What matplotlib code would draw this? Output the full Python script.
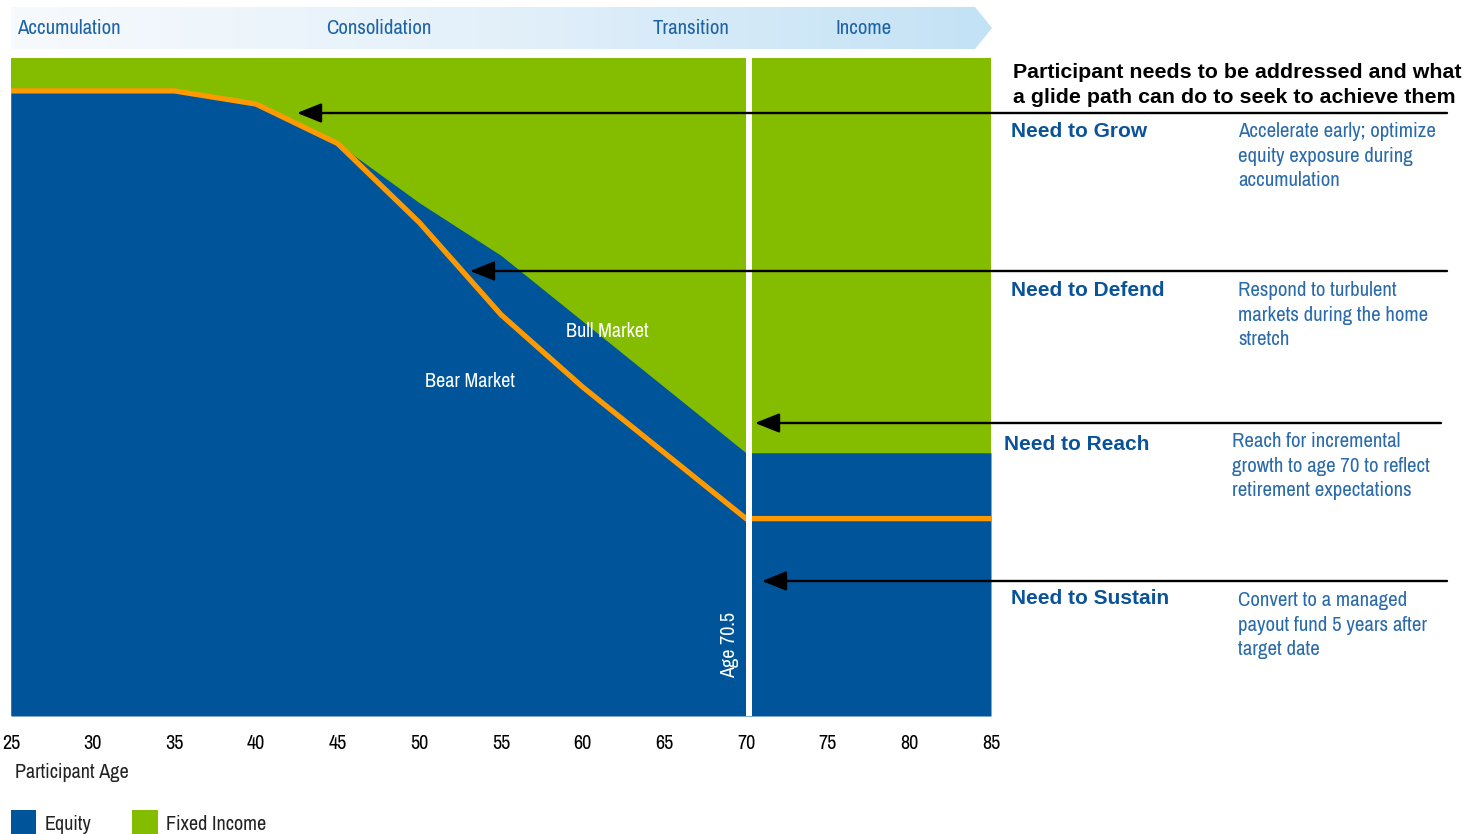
import numpy as np
import matplotlib
matplotlib.use('Agg')
import matplotlib.pyplot as plt
from matplotlib import font_manager
from matplotlib.patches import Polygon, Rectangle
from matplotlib.colors import LinearSegmentedColormap

# glide path data (% equity)
ages = [25, 30, 35, 40, 45, 50, 55, 60, 65, 70, 75, 80, 85]
bear_equity = [95, 95, 95, 93, 87, 75, 61, 50, 40, 30, 30, 30, 30]
bull_equity = [95, 95, 95, 93, 87, 78, 70, 60, 50, 40, 40, 40, 40]
age_ticks = [25, 30, 35, 40, 45, 50, 55, 60, 65, 70, 75, 80, 85]
phases = ['Accumulation', 'Consolidation', 'Transition', 'Income']
needs = ['Need to Grow', 'Need to Defend', 'Need to Reach', 'Need to Sustain']
need_texts = [
    'Accelerate early; optimize\nequity exposure during\naccumulation',
    'Respond to turbulent\nmarkets during the home\nstretch',
    'Reach for incremental\ngrowth to age 70 to reflect\nretirement expectations',
    'Convert to a managed\npayout fund 5 years after\ntarget date',
]

BLUE = '#00559a'
GREEN = '#84bc00'
ORANGE = '#ff9900'
HEAD_BLUE = '#0b5399'
TEXT_BLUE = '#2b6bab'


def pick_font(names, fallback):
    for n in names:
        try:
            font_manager.findfont(n, fallback_to_default=False)
            return n, True
        except Exception:
            pass
    return fallback, False


NARROW, has_narrow = pick_font(['Arial Narrow', 'Liberation Sans Narrow', 'Archivo Narrow',
                                'Roboto Condensed', 'PT Sans Narrow', 'Pragati Narrow',
                                'IBM Plex Sans Condensed', 'Encode Sans Condensed'],
                               'Liberation Sans')
nscale = 1.0 if has_narrow else 0.84
plt.rcParams['font.family'] = ['Liberation Sans', 'DejaVu Sans']

W, H = 1476, 834
fig = plt.figure(figsize=(W / 100, H / 100), dpi=100)

# main chart
ax = fig.add_axes([11 / W, 1 - 716 / H, 980 / W, 658 / H])
ax.fill_between(ages, 0, 100, color=GREEN, lw=0)
ax.fill_between(ages, 0, bull_equity, color=BLUE, lw=0)
ax.plot(ages, bear_equity, color=ORANGE, lw=3.8, solid_joinstyle='miter')
ax.axvspan(70, 70.37, color='white', lw=0, zorder=5)
ax.set_xlim(25, 85)
ax.set_ylim(0, 100)
for s in ax.spines.values():
    s.set_visible(False)
ax.set_yticks([])
ax.set_xticks(age_ticks)
ax.set_xticklabels([str(a) for a in age_ticks], family=NARROW, fontsize=14.5 * nscale)
ax.tick_params(axis='x', length=0, pad=13)

ax.text(61.5, 58.5, 'Bull Market', color='white', fontsize=14.5 * nscale, family=NARROW,
        ha='center', va='center')
ax.text(53.1, 50.9, 'Bear Market', color='white', fontsize=14.5 * nscale, family=NARROW,
        ha='center', va='center')
ax.text(69.0, 10.8, 'Age 70.5', color='white', fontsize=14.5 * nscale, family=NARROW,
        ha='center', va='center', rotation=90, zorder=6)

# overlay in pixel coordinates
ov = fig.add_axes([0, 0, 1, 1], zorder=10)
ov.axis('off')
ov.patch.set_alpha(0)

# phase banner
banner = Polygon([(11, 7), (975, 7), (992, 28), (975, 49), (11, 49)], closed=True,
                 facecolor='none', edgecolor='none')
ov.add_patch(banner)
cmap = LinearSegmentedColormap.from_list('bn', ['#f7fafd', '#e3f0fa', '#c3e2f5'])
grad = np.linspace(0, 1, 256).reshape(1, -1)
im = ov.imshow(grad, extent=[11, 992, 49, 7], cmap=cmap, aspect='auto', zorder=1)
im.set_clip_path(banner)
ov.set_xlim(0, W)
ov.set_ylim(H, 0)
phase_x = [17, 379, 691, 864]
phase_ha = ['left', 'center', 'center', 'center']
for name, px, ha in zip(phases, phase_x, phase_ha):
    ov.text(px, 28, name, color='#1e63a6', fontsize=15 * nscale, family=NARROW,
            ha=ha, va='center', zorder=2)

# right panel
ov.text(1013, 85, 'Participant needs to be addressed and what\na glide path can do to seek to achieve them',
        fontsize=15.4, fontweight='bold', color='black', ha='left', va='center',
        linespacing=1.46)

arrow_rows = [(113, 1447, 297), (271, 1447, 470), (423, 1441, 755), (581, 1447, 762)]
for y, x0, x1 in arrow_rows:
    ov.annotate('', xy=(x1, y), xytext=(x0, y),
                arrowprops=dict(arrowstyle='-|>,head_length=0.75,head_width=0.3',
                                color='black', lw=1.7, mutation_scale=20,
                                shrinkA=0, shrinkB=0))

need_pos = [(1011, 131, 1238, 130), (1011, 290, 1238, 289),
            (1004, 444, 1232, 440), (1011, 599, 1238, 599)]
for name, txt, (hx, hy, tx, ty) in zip(needs, need_texts, need_pos):
    ov.text(hx, hy, name, fontsize=15, fontweight='bold', color=HEAD_BLUE,
            ha='left', va='center')
    ov.text(tx, ty - 8, txt, fontsize=15 * nscale, family=NARROW, color=TEXT_BLUE,
            ha='left', va='top', linespacing=1.38)

# axis title and legend
ov.text(15, 772, 'Participant Age', fontsize=14.5 * nscale, family=NARROW, color='#222222',
        ha='left', va='center')
ov.add_patch(Rectangle((11, 810), 25, 26, color=BLUE, lw=0))
ov.text(45, 825, 'Equity', fontsize=14.5 * nscale, family=NARROW, color='#222222',
        ha='left', va='center')
ov.add_patch(Rectangle((132, 810), 26, 26, color=GREEN, lw=0))
ov.text(166, 825, 'Fixed Income', fontsize=14.5 * nscale, family=NARROW, color='#222222',
        ha='left', va='center')

fig.savefig('out.png', dpi=100)
